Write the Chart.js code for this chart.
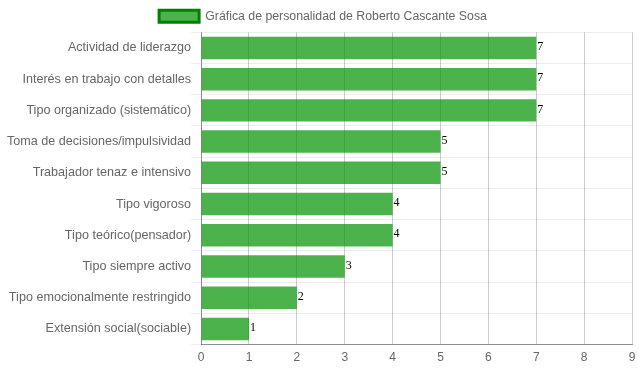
<!DOCTYPE html>
<html>
<head>
<meta charset="utf-8">
<script src="https://cdn.jsdelivr.net/npm/chart.js@4/dist/chart.umd.min.js"></script>
<style>
  html, body { margin: 0; padding: 0; background: #fff; }
  #wrap { width: 639px; height: 372px; }
</style>
</head>
<body>
<div id="wrap"><canvas id="grafica"></canvas></div>
<script>
// categorias y valores
const categorias = [
    "Actividad de liderazgo",
    "Interés en trabajo con detalles",
    "Tipo organizado (sistemático)",
    "Toma de decisiones/impulsividad",
    "Trabajador tenaz e intensivo",
    "Tipo vigoroso",
    "Tipo teórico(pensador)",
    "Tipo siempre activo",
    "Tipo emocionalmente restringido",
    "Extensión social(sociable)"
];
const valores = [7, 7, 7, 5, 5, 4, 4, 3, 2, 1];
const titulo = "Gráfica de personalidad de Roberto Cascante Sosa";

// etiquetas al final de cada barra
const etiquetas = {
    id: "etiquetas",
    afterDatasetsDraw(chart) {
        const ctx = chart.ctx;
        const meta = chart.getDatasetMeta(0);
        ctx.save();
        ctx.font = "12px 'Liberation Serif', 'Times New Roman', serif";
        ctx.fillStyle = "#000";
        ctx.textAlign = "left";
        ctx.textBaseline = "middle";
        meta.data.forEach((bar, i) => {
            ctx.fillText(valores[i], bar.x + 1, bar.y - 1);
        });
        ctx.restore();
    }
};

Chart.defaults.font.family = "'Liberation Sans', Arial, sans-serif";
Chart.defaults.font.size = 12;
Chart.defaults.color = "#666";

new Chart(document.getElementById("grafica"), {
    type: "bar",
    data: {
        labels: categorias,
        datasets: [{
            label: titulo,
            data: valores,
            backgroundColor: "rgba(0,145,0,0.7)",
            borderColor: "rgba(0,128,0,1)",
            borderWidth: 0
        }]
    },
    options: {
        indexAxis: "y",
        responsive: true,
        maintainAspectRatio: false,
        animation: false,
        layout: { padding: { left: 7, right: 0, top: 0, bottom: 1 } },
        scales: {
            x: {
                min: 0,
                max: 9,
                ticks: { stepSize: 1, padding: 6 },
                grid: { color: "rgba(0,0,0,0.2)", drawTicks: false },
                border: { color: "rgba(0,0,0,0.4)" },
                afterFit: (scale) => { scale.paddingRight = 7; }
            },
            y: {
                grid: { color: "rgba(0,0,0,0.07)", tickLength: 10 },
                border: { color: "rgba(0,0,0,0.3)" },
                ticks: { padding: 0, font: { size: 12.6 } }
            }
        },
        plugins: {
            legend: {
                labels: {
                    boxWidth: 40,
                    boxHeight: 12,
                    font: { size: 12.3 },
                    generateLabels: (chart) => [{
                        text: titulo,
                        fillStyle: "rgba(0,145,0,0.7)",
                        strokeStyle: "rgba(0,128,0,1)",
                        lineWidth: 3,
                        fontColor: "#666",
                        datasetIndex: 0
                    }]
                }
            },
            tooltip: { enabled: false }
        }
    },
    plugins: [etiquetas]
});
</script>
</body>
</html>
